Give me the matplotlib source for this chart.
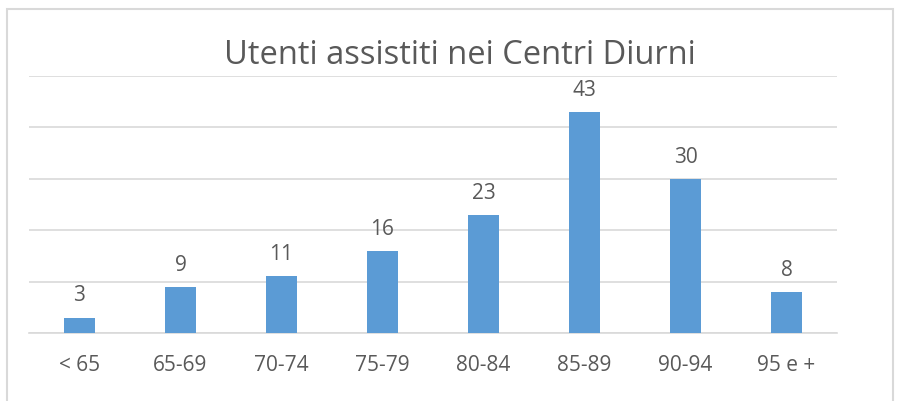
import matplotlib.pyplot as plt
from matplotlib.patches import Rectangle

# dati del grafico
fasce = ['< 65', '65-69', '70-74', '75-79', '80-84', '85-89', '90-94', '95 e +']
utenti = [3, 9, 11, 16, 23, 43, 30, 8]

grigio = '#595959'
plt.rcParams['font.family'] = ['Open Sans', 'DejaVu Sans']

fig = plt.figure(figsize=(8.99, 4.01), dpi=100)
ax = fig.add_axes([29/899, 1 - 333/401, 808/899, (333 - 76)/401])

x = range(len(fasce))
ax.bar(x, utenti, width=0.31, color='#5B9BD5', zorder=3)
for i, v in zip(x, utenti):
    ax.annotate(str(v), (i, v), xytext=(0, 8), textcoords='offset points',
                ha='center', va='bottom', fontsize=15, color=grigio)

ax.set_xlim(-0.5, len(fasce) - 0.5)
ax.set_ylim(0, 50)
ax.set_yticks(range(0, 51, 10))
ax.yaxis.grid(True, color='#D9D9D9', linewidth=1.2)
ax.tick_params(axis='y', left=False, labelleft=False)
ax.set_xticks(list(x))
ax.set_xticklabels(fasce, fontsize=15, color=grigio)
ax.tick_params(axis='x', length=0, pad=16)
for s in ['top', 'right', 'left']:
    ax.spines[s].set_visible(False)
ax.spines['bottom'].set_color('#D9D9D9')
ax.spines['bottom'].set_linewidth(1.2)

fig.text(460/899, 1 - 55/401, 'Utenti assistiti nei Centri Diurni',
         ha='center', va='center', fontsize=23.5, color=grigio)

# cornice del grafico
fig.patches.append(Rectangle((7/899, -0.05), 886/899, 1.05 - 9/401,
                             transform=fig.transFigure, fill=False,
                             edgecolor='#D9D9D9', linewidth=1.5))

plt.savefig('out.png', dpi=100)
